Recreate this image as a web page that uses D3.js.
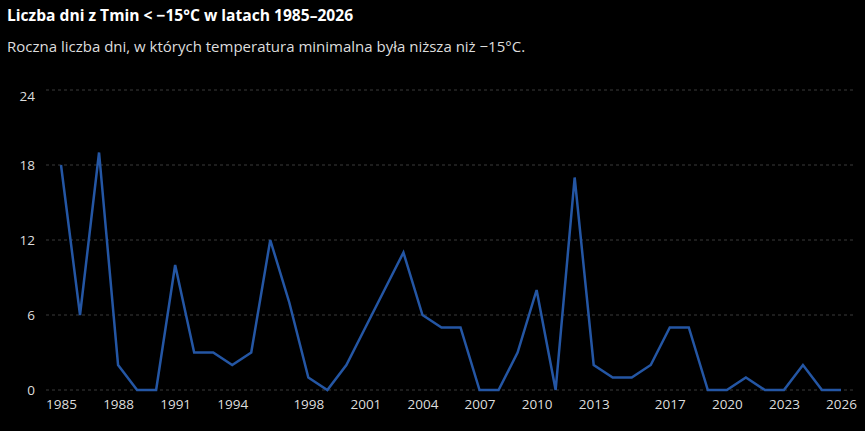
<!DOCTYPE html>
<html><head><meta charset="utf-8">
<script src="https://cdn.jsdelivr.net/npm/d3@7"></script>
<style>
html,body{margin:0;padding:0;background:#000;}
svg{display:block;font-family:"Segoe UI","Open Sans","Noto Sans",sans-serif;}
</style></head>
<body>
<svg id="c" width="865" height="431"></svg>
<script>
const years = d3.range(1985, 2027);
const values = [18,6,19,2,0,0,10,3,3,2,3,12,7,1,0,2,5,8,11,6,5,5,0,0,3,8,0,17,2,1,1,2,5,5,0,0,1,0,0,2,0,0];
const xTickYears = [1985,1988,1991,1994,1998,2001,2004,2007,2010,2013,2017,2020,2023,2026];
const yTicks = [0,6,12,18,24];
const titleText = "Liczba dni z Tmin < \u221215°C w latach 1985\u20132026";
const subtitleText = "Roczna liczba dni, w których temperatura minimalna była niższa niż \u221215°C.";

const svg = d3.select("#c");
const x = d3.scaleLinear().domain([1985, 2026]).range([61, 841]);
const y = d3.scaleLinear().domain([0, 24]).range([390, 90]);

svg.append("text").attr("x", 7).attr("y", 21).attr("fill", "#fff")
  .attr("font-size", 15.6).attr("font-weight", 700).text(titleText);
svg.append("text").attr("x", 7).attr("y", 52).attr("fill", "#ddd")
  .attr("font-size", 15).text(subtitleText);

// grid
svg.append("g").selectAll("line").data(yTicks).join("line")
  .attr("x1", 46).attr("x2", 854)
  .attr("y1", d => y(d)).attr("y2", d => y(d))
  .attr("stroke", "#3a3a3a").attr("stroke-width", 1).attr("stroke-dasharray", "3,3");

// y axis
const yAxis = d3.axisLeft(y).tickValues(yTicks).tickSize(0).tickPadding(0);
const gy = svg.append("g").attr("transform", "translate(35,0)").call(yAxis);
gy.select(".domain").remove();
gy.selectAll("text").attr("fill", "#ddd").attr("font-size", 13.5)
  .attr("font-family", '"Segoe UI","Open Sans","Noto Sans",sans-serif')
  .attr("dy", d => d === 24 ? "0.75em" : "0.32em");

// x axis
const xAxis = d3.axisBottom(x).tickValues(xTickYears).tickFormat(d3.format("d")).tickSize(0).tickPadding(0);
const gx = svg.append("g").attr("transform", "translate(0,399)").call(xAxis);
gx.select(".domain").remove();
gx.selectAll("text").attr("fill", "#ddd").attr("font-size", 13.5)
  .attr("font-family", '"Segoe UI","Open Sans","Noto Sans",sans-serif');

// line
const line = d3.line().x((d, i) => x(years[i])).y(d => y(d));
svg.append("path").datum(values).attr("d", line)
  .attr("fill", "none").attr("stroke", "#2456a4").attr("stroke-width", 2.5)
  .attr("stroke-linejoin", "miter");
</script>
</body></html>
